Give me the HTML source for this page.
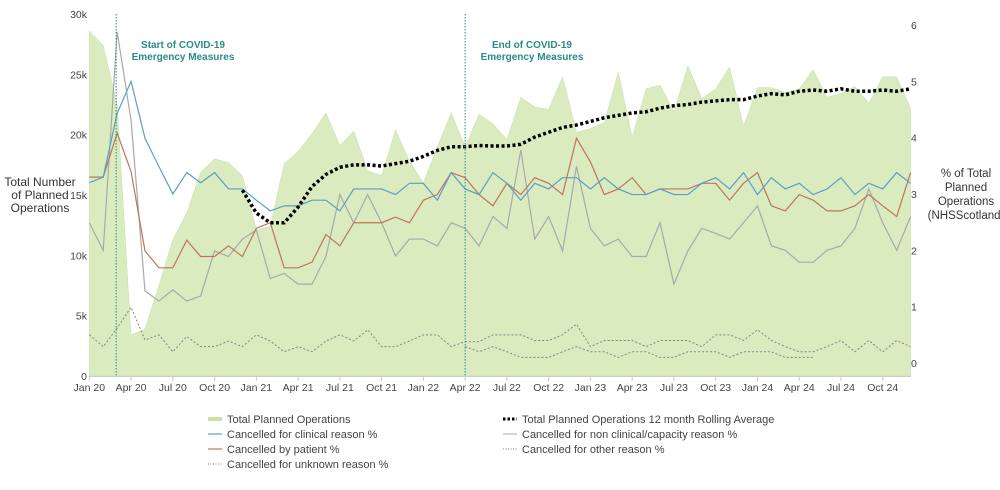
<!DOCTYPE html>
<html><head><meta charset="utf-8"><style>
body{margin:0;background:#fff;font-family:"Liberation Sans",sans-serif;}
svg text{font-family:"Liberation Sans",sans-serif;}
</style></head><body>
<svg id="chart" width="1000" height="485" xmlns="http://www.w3.org/2000/svg">
<g id="plot"></g>
<g id="axes"></g>
<g id="legend"></g>
</svg>
<script>
const xLabels=["Jan 20","Apr 20","Jul 20","Oct 20","Jan 21","Apr 21","Jul 21","Oct 21","Jan 22","Apr 22","Jul 22","Oct 22","Jan 23","Apr 23","Jul 23","Oct 23","Jan 24","Apr 24","Jul 24","Oct 24"];
const leftTicks=[0,5000,10000,15000,20000,25000,30000];
const leftTickLabels=["0","5k","10k","15k","20k","25k","30k"];
const rightTicks=[0,1,2,3,4,5,6];
const totalPlanned=[28.6,27.4,22.5,3.4,3.9,7.5,11.3,13.5,16.9,18.0,17.7,16.6,12.1,12.4,17.6,18.6,20.1,21.8,19.1,20.3,17.0,16.6,20.4,17.8,16.0,19.0,21.8,19.0,21.7,20.9,19.6,23.1,22.3,22.1,24.8,20.2,20.5,21.0,25.2,19.8,23.8,24.1,21.9,25.7,23.0,23.8,25.6,20.7,23.9,23.9,23.5,23.8,25.4,23.1,23.4,24.0,22.6,24.8,24.8,22.2];
const rollingAvg=[null,null,null,null,null,null,null,null,null,null,null,15.4,13.5,12.7,12.7,14.0,15.7,16.7,17.3,17.5,17.5,17.4,17.6,17.8,18.2,18.7,19.0,19.0,19.1,19.06,19.06,19.2,19.8,20.2,20.6,20.8,21.1,21.4,21.6,21.8,21.9,22.2,22.4,22.5,22.7,22.8,22.9,22.9,23.2,23.4,23.3,23.6,23.7,23.6,23.8,23.6,23.6,23.7,23.6,23.8];
const clinical=[3.2,3.3,4.43,5.0,3.99,3.49,3.0,3.38,3.2,3.38,3.09,3.09,2.89,2.7,2.79,2.79,2.89,2.89,2.7,3.09,3.09,3.09,2.99,3.19,3.19,2.89,3.38,3.09,2.99,3.38,3.19,2.89,3.19,3.09,3.29,3.29,3.09,3.29,3.09,2.99,2.99,3.09,2.99,2.99,3.19,3.29,3.09,3.38,2.99,3.29,3.09,3.19,2.99,3.09,3.29,2.99,3.19,3.09,3.38,3.19];
const patient=[3.3,3.3,4.08,3.4,1.99,1.69,1.69,2.18,1.89,1.89,2.08,1.89,2.39,2.49,1.69,1.69,1.79,2.28,2.08,2.49,2.49,2.49,2.59,2.49,2.89,2.99,3.38,3.29,2.99,2.79,3.19,2.99,3.29,3.19,2.99,3.99,3.57,2.99,3.09,3.29,2.99,3.09,3.09,3.09,3.19,3.19,2.89,3.19,3.38,2.79,2.7,2.99,2.89,2.7,2.7,2.79,2.99,2.79,2.6,3.38];
const nonClinical=[2.49,2.0,5.88,4.31,1.28,1.1,1.3,1.1,1.19,1.99,1.89,2.2,2.36,1.5,1.59,1.4,1.4,1.89,2.99,2.49,2.99,2.49,1.9,2.2,2.2,2.08,2.49,2.39,2.08,2.6,2.39,3.78,2.2,2.6,1.99,3.49,2.39,2.08,2.2,1.89,1.89,2.49,1.4,1.99,2.39,2.3,2.2,2.49,2.79,2.08,2.0,1.79,1.79,2.0,2.08,2.39,3.09,2.49,2.0,2.6];
const unknownReason=[0.5,0.29,0.62,0.99,0.41,0.5,0.2,0.47,0.29,0.29,0.39,0.29,0.5,0.39,0.2,0.29,0.2,0.39,0.5,0.39,0.59,0.29,0.29,0.39,0.5,0.5,0.29,0.38,0.38,0.5,0.5,0.5,0.4,0.4,0.5,0.69,0.29,0.4,0.4,0.4,0.29,0.4,0.4,0.4,0.29,0.5,0.5,0.4,0.59,0.4,0.29,0.2,0.2,0.29,0.4,0.2,0.4,0.2,0.4,0.29];
const otherReason=[null,null,null,null,null,null,null,null,null,null,null,null,null,null,null,null,null,null,null,null,null,null,null,null,null,null,null,0.29,0.2,0.29,0.2,0.1,0.1,0.1,0.2,0.29,0.2,0.2,0.1,0.2,0.2,0.1,0.1,0.2,0.2,0.2,0.1,0.2,0.2,0.2,0.1,0.1,0.1];
const markers=[1.93,27];

const NS="http://www.w3.org/2000/svg";
const X=m=>89.3+13.92*m;
const YL=v=>376-v*362/30000;
const YR=p=>363-p*56.33;
function mk(t,a,parent){const e=document.createElementNS(NS,t);for(const k in a)e.setAttribute(k,a[k]);parent.appendChild(e);return e;}
const plot=document.getElementById('plot'),axes=document.getElementById('axes'),leg=document.getElementById('legend');

let d="M"+X(0)+","+YL(0);
totalPlanned.forEach((v,i)=>{d+=" L"+X(i)+","+YL(v*1000);});
d+=" L"+X(totalPlanned.length-1)+","+YL(0)+" Z";
const area=mk('path',{d:d,fill:'#d9ebbf',stroke:'#c9e0a8','stroke-width':0.5},plot);



function line(arr,yf,style,name){
  let p="",started=false;
  arr.forEach((v,i)=>{if(v===null||v===undefined)return;p+=(started?" L":"M")+X(i)+","+yf(v);started=true;});
  const e=mk('path',Object.assign({d:p,fill:'none'},style),plot);
  
  
}
line(nonClinical,YR,{stroke:'#a9a9a9','stroke-width':1.2},'non-clinical-line');
line(unknownReason,YR,{stroke:'#8a7f8a','stroke-width':1,'stroke-dasharray':'2,2'},'unknown-reason-line');
line(otherReason,YR,{stroke:'#8a7f8a','stroke-width':1,'stroke-dasharray':'2,2'},'other-reason-line');
line(patient,YR,{stroke:'#c0745a','stroke-width':1.2},'patient-line');
line(clinical,YR,{stroke:'#5a9ec8','stroke-width':1.2},'clinical-line');
line(rollingAvg.map(v=>v===null?null:v*1000),YL,{stroke:'#000','stroke-width':3.5,'stroke-dasharray':'3,2.5'},'rolling-average-line');

markers.forEach((m,i)=>{
  const l=mk('line',{x1:X(m),x2:X(m),y1:14,y2:376,stroke:'#2a8a8a','stroke-width':1,'stroke-dasharray':'1.5,1.5'},plot);
  
  
});
const ann=[["Start of COVID-19",183],["End of COVID-19",532]];
ann.forEach((a,i)=>{
  const t=mk('text',{x:a[1],y:48,'text-anchor':'middle','font-size':10,'font-weight':'bold',fill:'#2a8a8a'},plot);
  t.textContent=a[0];
  
  
  const t2=mk('text',{x:a[1],y:60,'text-anchor':'middle','font-size':10,'font-weight':'bold',fill:'#2a8a8a'},plot);
  t2.textContent="Emergency Measures";
  
  
});

mk('line',{x1:89,x2:911,y1:376.5,y2:376.5,stroke:'#ccc','stroke-width':1},axes);
xLabels.forEach((s,i)=>{
  const x=X(i*3);
  mk('line',{x1:x,x2:x,y1:376,y2:381,stroke:'#ccc'},axes);
  const t=mk('text',{x:x,y:391,'text-anchor':'middle','font-size':10.5,fill:'#444'},axes);
  t.textContent=s;
  
  
});
leftTicks.forEach((v,i)=>{
  const t=mk('text',{x:87,y:YL(v)+4,'text-anchor':'end','font-size':10.5,fill:'#444'},axes);
  t.textContent=leftTickLabels[i];
  
  
});
rightTicks.forEach(v=>{
  const t=mk('text',{x:911,y:YR(v)+4,'font-size':10.5,fill:'#444'},axes);
  t.textContent=String(v);
  
  
});
[["Total Number",186],["of Planned",199],["Operations",212]].forEach(a=>{
  const t=mk('text',{x:40,y:a[1],'text-anchor':'middle','font-size':12,fill:'#333'},axes);
  t.textContent=a[0];
  
  
});
[["% of Total",177],["Planned",191],["Operations",205],["(NHSScotland)",219]].forEach(a=>{
  const t=mk('text',{x:966,y:a[1],'text-anchor':'middle','font-size':11.5,fill:'#333'},axes);
  t.textContent=a[0];
  
  
});

const items=[
 ["Total Planned Operations",208,423,{stroke:'#c9e0a8','stroke-width':4}],
 ["Total Planned Operations 12 month Rolling Average",503,423,{stroke:'#000','stroke-width':3,'stroke-dasharray':'2.5,2'}],
 ["Cancelled for clinical reason %",208,438,{stroke:'#5a9ec8','stroke-width':1.2}],
 ["Cancelled for non clinical/capacity reason %",503,438,{stroke:'#bbb','stroke-width':1.2}],
 ["Cancelled by patient %",208,453,{stroke:'#c0745a','stroke-width':1.2}],
 ["Cancelled for other reason %",503,453,{stroke:'#8a7f8a','stroke-width':1,'stroke-dasharray':'1,1.5'}],
 ["Cancelled for unknown reason %",208,468,{stroke:'#8a7f8a','stroke-width':1,'stroke-dasharray':'1,1.5'}]
];
items.forEach(it=>{
  const g=mk('g',{},leg);
  
  
  mk('line',Object.assign({x1:it[1],x2:it[1]+14,y1:it[2]-4,y2:it[2]-4},it[3]),g);
  const t=mk('text',{x:it[1]+19,y:it[2],'font-size':11,fill:'#444'},g);
  t.textContent=it[0];
});
</script>
</body></html>
